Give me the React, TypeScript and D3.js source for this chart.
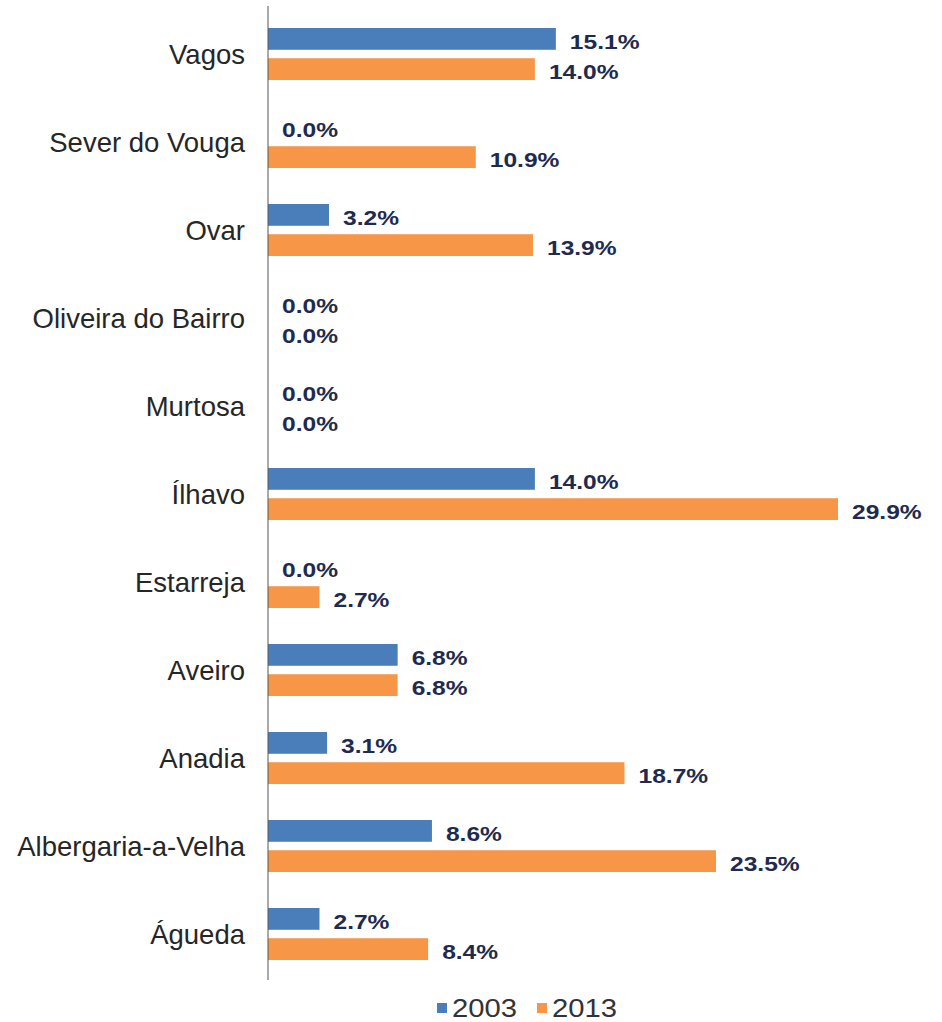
import React, { useRef, useEffect } from 'react';
import * as d3 from 'd3';

const categories = [
  'Vagos',
  'Sever do Vouga',
  'Ovar',
  'Oliveira do Bairro',
  'Murtosa',
  'Ílhavo',
  'Estarreja',
  'Aveiro',
  'Anadia',
  'Albergaria-a-Velha',
  'Águeda',
];
const series = ['2003', '2013'];
const values2003 = [15.1, 0.0, 3.2, 0.0, 0.0, 14.0, 0.0, 6.8, 3.1, 8.6, 2.7];
const values2013 = [14.0, 10.9, 13.9, 0.0, 0.0, 29.9, 2.7, 6.8, 18.7, 23.5, 8.4];
const colors = ['#4a7ebb', '#f79646'];

const W = 942;
const H = 1022;
const FONT = 'Liberation Sans, Arial, sans-serif';

const App: React.FC = () => {
  const ref = useRef<SVGSVGElement | null>(null);

  useEffect(() => {
    if (!ref.current) return;
    const svg = d3.select(ref.current);
    svg.selectAll('*').remove();
    svg.append('rect').attr('width', W).attr('height', H).attr('fill', '#fff');

    const x = d3.scaleLinear().domain([0, 29.9]).range([268, 838]);
    const y = d3.scaleBand<string>().domain(categories).range([10, 978]);
    const inner = d3
      .scaleBand<string>()
      .domain(series)
      .range([18, 70])
      .paddingInner(0.28);

    const rows = categories.map((c, i) => ({
      c,
      vals: [values2003[i], values2013[i]],
    }));

    const g = svg
      .selectAll('g.row')
      .data(rows)
      .join('g')
      .attr('class', 'row')
      .attr('transform', (d) => `translate(0,${y(d.c)})`);

    g.selectAll('rect')
      .data((d) => d.vals.map((v, k) => ({ v, k })))
      .join('rect')
      .attr('x', x(0))
      .attr('y', (d) => inner(series[d.k])!)
      .attr('width', (d) => x(d.v) - x(0))
      .attr('height', inner.bandwidth())
      .attr('fill', (d) => colors[d.k]);

    // value labels, a bit wider than plain Arial bold
    g.selectAll('g.lbl')
      .data((d) => d.vals.map((v, k) => ({ v, k })))
      .join('g')
      .attr('class', 'lbl')
      .attr(
        'transform',
        (d) =>
          `translate(${x(d.v) + 14},${inner(series[d.k])! + inner.bandwidth() / 2}) scale(1.17,1)`
      )
      .append('text')
      .attr('dy', '0.46em')
      .attr('font-family', FONT)
      .attr('font-weight', 'bold')
      .attr('font-size', 21)
      .attr('fill', '#1f2a4f')
      .text((d) => d.v.toFixed(1) + '%');

    g.append('text')
      .attr('x', 245)
      .attr('y', y.bandwidth() / 2)
      .attr('text-anchor', 'end')
      .attr('dy', '0.35em')
      .attr('font-family', FONT)
      .attr('font-size', 27.5)
      .attr('fill', '#262626')
      .text((d) => d.c);

    svg
      .append('line')
      .attr('x1', x(0))
      .attr('x2', x(0))
      .attr('y1', 6)
      .attr('y2', 980)
      .attr('stroke', '#555')
      .attr('stroke-width', 1);

    // legend
    const leg = svg
      .selectAll('g.leg')
      .data(series)
      .join('g')
      .attr('class', 'leg')
      .attr('transform', (_, i) => `translate(${437 + i * 100},1008)`);
    leg
      .append('rect')
      .attr('x', 0)
      .attr('y', -5)
      .attr('width', 10)
      .attr('height', 10)
      .attr('fill', (_, i) => colors[i]);
    leg
      .append('g')
      .attr('transform', `translate(15,0) scale(1.17,1)`)
      .append('text')
      .attr('dy', '0.36em')
      .attr('font-family', FONT)
      .attr('font-size', 25)
      .attr('fill', '#333')
      .text((d) => d);
  }, []);

  return (
    <svg
      ref={ref}
      width={W}
      height={H}
      style={{ position: 'absolute', top: 0, left: 0 }}
    />
  );
};

export default App;
